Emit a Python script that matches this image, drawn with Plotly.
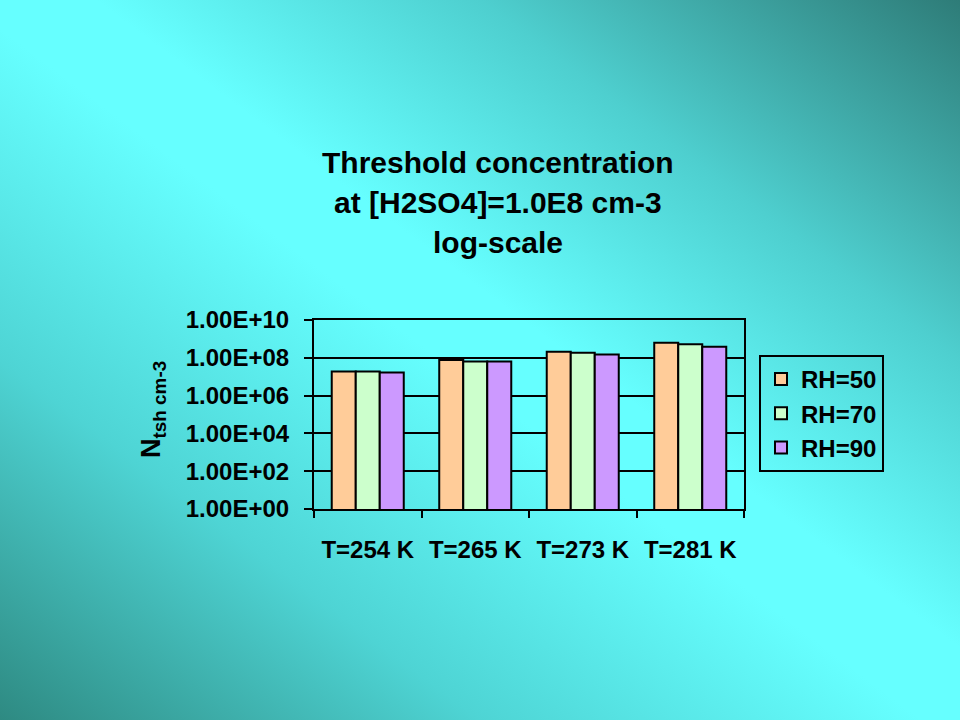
import base64
import plotly.graph_objects as go

# ---- data ----
categories = ["T=254 K", "T=265 K", "T=273 K", "T=281 K"]
rh50 = [1.9e7, 7.7e7, 2.1e8, 6.3e8]
rh70 = [1.9e7, 6.3e7, 1.87e8, 5.2e8]
rh90 = [1.65e7, 6.3e7, 1.5e8, 3.9e8]
series_names = ["RH=50", "RH=70", "RH=90"]
y_tickvals = [1, 1e2, 1e4, 1e6, 1e8, 1e10]
y_ticktext = ["1.00E+00", "1.00E+02", "1.00E+04", "1.00E+06", "1.00E+08", "1.00E+10"]
title_lines = ["Threshold concentration", "at [H2SO4]=1.0E8 cm-3", "log-scale"]

# ---- layout geometry (pixels) ----
W, H = 960, 720
L, R, T, B = 314, 744, 320, 509
pw, ph = R - L, B - T


def px_x(px):
    return (px - L) / pw


def px_y(py):
    return (B - py) / ph


FONT = "Liberation Sans, Arial, sans-serif"
colors = ["#FFCC99", "#CCFFCC", "#CC99FF"]

# gradient background as svg image
svg = (
    '<svg xmlns="http://www.w3.org/2000/svg" width="960" height="720" preserveAspectRatio="none">'
    '<defs><linearGradient id="g" x1="0" y1="1" x2="1" y2="0">'
    '<stop offset="0" stop-color="#2E8A82"/>'
    '<stop offset="0.25" stop-color="#4ED4D4"/>'
    '<stop offset="0.48" stop-color="#66FFFF"/>'
    '<stop offset="0.55" stop-color="#66FFFF"/>'
    '<stop offset="0.75" stop-color="#4ECFCF"/>'
    '<stop offset="1" stop-color="#2E7C78"/>'
    '</linearGradient></defs>'
    '<rect x="0" y="0" width="960" height="720" fill="url(#g)"/></svg>'
)
svg_uri = "data:image/svg+xml;base64," + base64.b64encode(svg.encode()).decode()

fig = go.Figure()
for name, vals, col in zip(series_names, [rh50, rh70, rh90], colors):
    fig.add_trace(go.Bar(
        x=categories, y=vals, name=name,
        marker=dict(color=col, line=dict(color="black", width=2)),
    ))

fig.update_layout(
    width=W, height=H,
    margin=dict(l=L, r=W - R, t=T, b=H - B, pad=0),
    paper_bgcolor="#55DDDD",
    plot_bgcolor="rgba(0,0,0,0)",
    barmode="group",
    bargap=0.33,
    bargroupgap=0,
    font=dict(family=FONT, color="black", size=24),
    showlegend=True,
    legend=dict(
        x=px_x(759), y=px_y(355), xanchor="left", yanchor="top",
        bgcolor="rgba(0,0,0,0)", bordercolor="black", borderwidth=2,
        font=dict(family=FONT, size=24, color="black", weight="bold"),
        tracegroupgap=0,
    ),
    images=[dict(
        source=svg_uri, xref="paper", yref="paper",
        x=px_x(0), y=px_y(0), sizex=W / pw, sizey=H / ph,
        xanchor="left", yanchor="top", sizing="stretch", layer="below",
    )],
)

fig.update_xaxes(
    showline=True, linecolor="black", linewidth=2, mirror=True,
    ticks="outside", ticklen=7, tickwidth=2, tickcolor="black",
    tickson="boundaries", showgrid=False,
    tickfont=dict(family=FONT, size=24, color="black", weight="bold"),
    ticklabelstandoff=18,
)
fig.update_yaxes(
    type="log", range=[0, 10],
    tickvals=y_tickvals, ticktext=y_ticktext,
    showline=True, linecolor="black", linewidth=2, mirror=True,
    ticks="outside", ticklen=8, tickwidth=2, tickcolor="black",
    showgrid=True, gridcolor="black", gridwidth=2,
    tickfont=dict(family=FONT, size=24, color="black", weight="bold"),
    ticklabelstandoff=10,
    zeroline=False,
)

annotations = []
title_y = [162, 202, 242]
for txt, py in zip(title_lines, title_y):
    annotations.append(dict(
        text=txt, xref="paper", yref="paper", x=px_x(498), y=px_y(py),
        xanchor="center", yanchor="middle", showarrow=False,
        font=dict(family=FONT, size=30, color="black", weight="bold"),
    ))
annotations.append(dict(
    text="N<sub>tsh cm-3</sub>", xref="paper", yref="paper",
    x=px_x(153), y=px_y(410), xanchor="center", yanchor="middle",
    textangle=-90, showarrow=False,
    font=dict(family=FONT, size=27, color="black", weight="bold"),
))
fig.update_layout(annotations=annotations)

fig.write_html(
    "out.html",
    config={"displayModeBar": False},
    post_script="document.body.style.margin='0';document.body.style.padding='0';",
)
